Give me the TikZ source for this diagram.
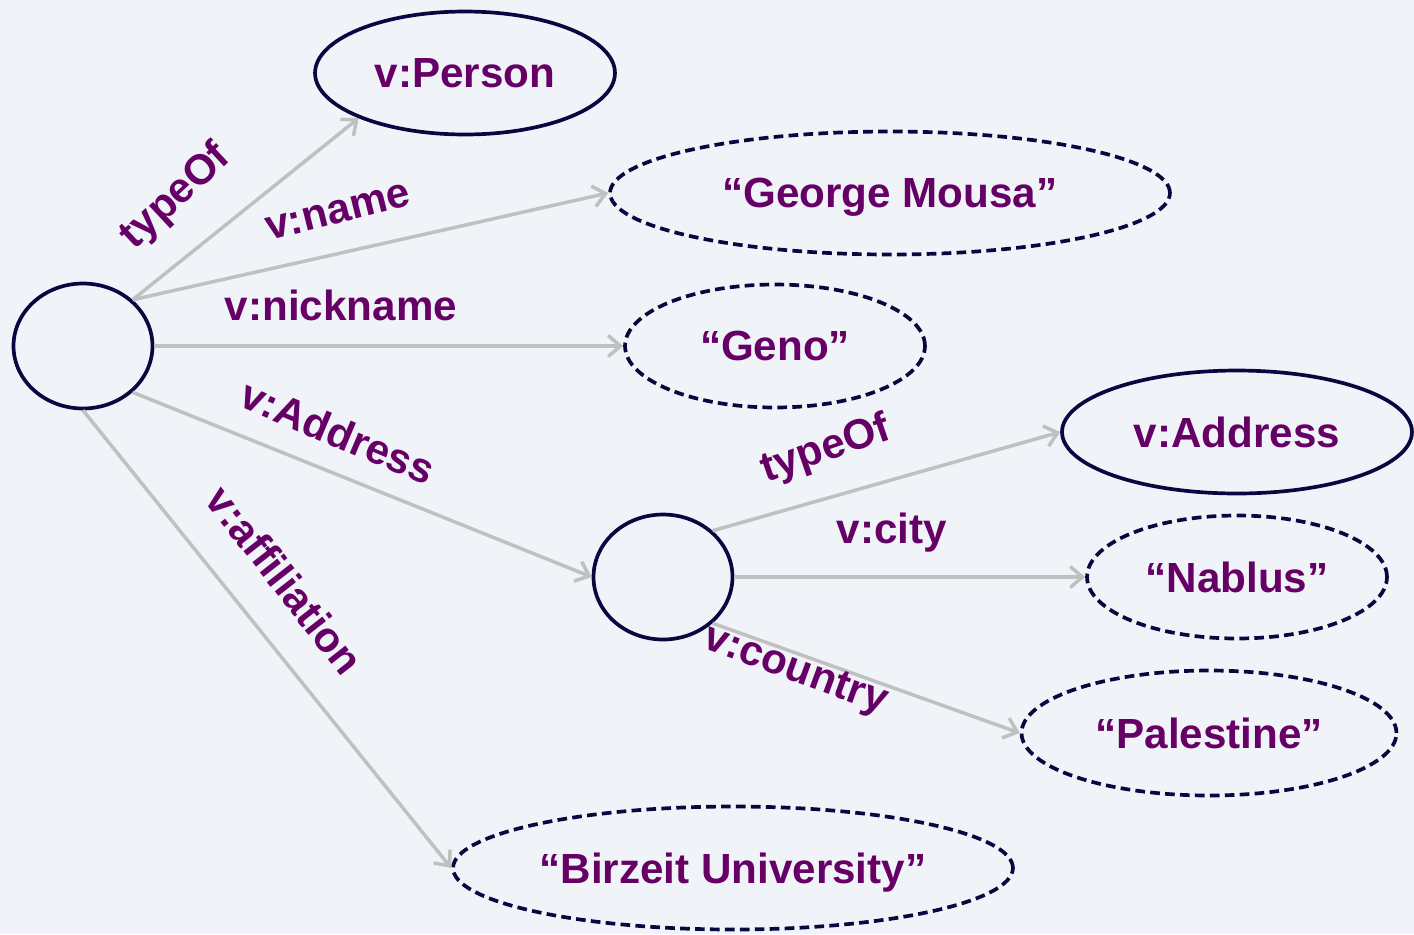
\documentclass[tikz,border=0pt]{standalone}
\usepackage{fontspec}
\setmainfont{Liberation Sans}
\usetikzlibrary{arrows.meta,shapes.geometric}
\definecolor{bgc}{RGB}{240,244,248}
\definecolor{txtc}{RGB}{102,0,102}
\definecolor{edgec}{RGB}{192,192,192}
\definecolor{ringc}{RGB}{8,8,64}
\tikzset{
  lbl/.style={text=txtc,font=\bfseries\fontsize{24}{29}\selectfont,inner sep=0pt},
  res/.style={ellipse,draw=ringc,line width=2.1pt,inner sep=0pt,text=txtc,font=\bfseries\fontsize{24}{29}\selectfont,text depth=-2pt},
  lit/.style={res,dash pattern=on 5.5pt off 3pt},
  rel/.style={draw=edgec,line width=2pt,-{Straight Barb[length=7pt,width=12pt,line width=2pt]}}
}
\begin{document}
\begin{tikzpicture}[x=0.02cm,y=-0.02cm]
\fill[bgc] (0,0) rectangle (1414,934);
\useasboundingbox (0,0) rectangle (1414,934);
% nodes
\node[res,minimum width=2.78cm,minimum height=2.5cm] (root) at (83,346) {};
\node[res,minimum width=6cm,minimum height=2.46cm] (person) at (465,73) {v:Person};
\node[lit,minimum width=11.2cm,minimum height=2.46cm] (george) at (890,193) {“George Mousa”};
\node[lit,minimum width=6cm,minimum height=2.46cm] (geno) at (775,346) {“Geno”};
\node[res,minimum width=2.78cm,minimum height=2.5cm] (mid) at (663,577) {};
\node[res,minimum width=7.0cm,minimum height=2.46cm] (addr) at (1237,432) {v:Address};
\node[lit,minimum width=6cm,minimum height=2.46cm] (nablus) at (1237,577) {“Nablus”};
\node[lit,minimum width=7.5cm,minimum height=2.5cm] (pal) at (1209,733) {“Palestine”};
\node[lit,minimum width=11.2cm,minimum height=2.46cm] (birzeit) at (733,868) {“Birzeit University”};
% edges
\draw[rel] (root.43) -- (person.203);
\draw[rel] (root.43) -- (george.west);
\draw[rel] (root.east) -- (geno.west);
\draw[rel] (root.-43) -- (mid.west);
\draw[rel] (root.south) -- (birzeit.west);
\draw[rel] (mid.43) -- (addr.west);
\draw[rel] (mid.east) -- (nablus.west);
\draw[rel] (mid.-43) -- (pal.west);
% labels
\node[lbl,rotate=43] (l1) at (176,197) {typeOf};
\node[lbl,rotate=14] (l2) at (338,212) {v:name};
\node[lbl] (l3) at (341,305) {v:nickname};
\node[lbl,rotate=-23] (l4) at (338,432) {v:Address};
\node[lbl,rotate=-52] (l5) at (285,580) {v:affiliation};
\node[lbl,rotate=19] (l6) at (826,450) {typeOf};
\node[lbl] (l7) at (892,533) {v:city};
\node[lbl,rotate=-20] (l8) at (795,672) {v:country};
\end{tikzpicture}
\end{document}
